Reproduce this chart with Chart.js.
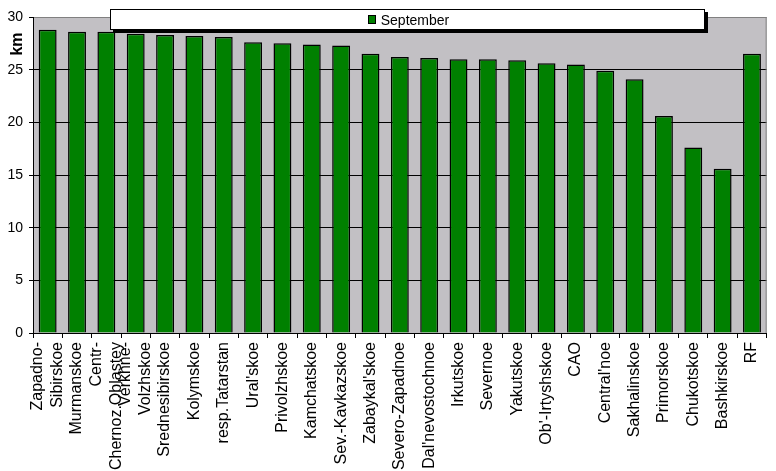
<!DOCTYPE html>
<html>
<head>
<meta charset="utf-8">
<script src="https://cdn.jsdelivr.net/npm/chart.js@4/dist/chart.umd.min.js"></script>
<style>
  html, body { margin: 0; padding: 0; background: #fff; }
  #wrap { position: relative; width: 776px; height: 471px; }
  #legend {
    position: absolute; left: 110px; top: 9px; width: 593px; height: 19px;
    background: #fff; border: 1px solid #000; box-shadow: 3px 3px 0 #000;
    display: flex; align-items: center; justify-content: center;
    font: 14px "Liberation Sans", Arial, sans-serif; color: #000;
  }
  #legend .sw { width: 6px; height: 7px; background: #008000; border: 1px solid #000; margin-right: 5px; margin-left: 2px; }
</style>
</head>
<body>
<div id="wrap">
  <canvas id="c" width="776" height="471"></canvas>
  <div id="legend"><span class="sw"></span><span>September</span></div>
</div>
<script>
const categories = [
  ["Zapadno-", "Sibirskoe"], "Murmanskoe", ["Centr-", "Chernoz.Oblastey"], ["Verkhne-", "Volzhskoe"],
  "Srednesibirskoe", "Kolymskoe", "resp.Tatarstan", "Ural'skoe", "Privolzhskoe", "Kamchatskoe",
  "Sev.-Kavkazskoe", "Zabaykal'skoe", "Severo-Zapadnoe", "Dal'nevostochnoe", "Irkutskoe", "Severnoe",
  "Yakutskoe", "Ob'-Irtyshskoe", "CAO", "Central'noe", "Sakhalinskoe", "Primorskoe", "Chukotskoe",
  "Bashkirskoe", "RF"
];
const september = [
  28.8, 28.6, 28.6, 28.4, 28.3, 28.2, 28.1, 27.6, 27.5, 27.4, 27.3, 26.5, 26.2, 26.1,
  26.0, 26.0, 25.9, 25.6, 25.5, 24.9, 24.1, 20.6, 17.6, 15.6, 26.5
];
const seriesName = "September";
const yAxisTitle = "km";
const yMin = 0, yMax = 30, yStep = 5;

const FONT = '"Liberation Sans", Arial, sans-serif';
Chart.defaults.font.family = FONT;
Chart.defaults.color = '#000';

const bgPlugin = {
  id: 'bg',
  beforeDraw(chart) {
    const {ctx, chartArea: a} = chart;
    ctx.save();
    ctx.fillStyle = '#C2C0C4';
    ctx.fillRect(a.left, a.top, a.right - a.left, a.bottom - a.top);
    ctx.restore();
    // center multi-line rotated x labels on their category
    const xs = chart.scales.x;
    const items = xs.getLabelItems();
    items.forEach(it => {
      if (Array.isArray(it.label) && !it._centered) {
        const lh = it.font.lineHeight;
        it.options.translation[0] -= (it.label.length - 1) * lh / 2;
        it._centered = true;
      }
    });
  },
  afterDraw(chart) {
    const {ctx, chartArea: a} = chart;
    ctx.save();
    ctx.strokeStyle = '#808080';
    ctx.lineWidth = 1;
    ctx.beginPath();
    ctx.moveTo(a.right - 0.5, a.top);
    ctx.lineTo(a.right - 0.5, a.bottom);
    ctx.stroke();
    // axis title
    ctx.translate(18, 44);
    ctx.rotate(-Math.PI / 2);
    ctx.font = 'bold 16px ' + FONT;
    ctx.fillStyle = '#000';
    ctx.textAlign = 'center';
    ctx.textBaseline = 'middle';
    ctx.fillText(yAxisTitle, 0, 0);
    ctx.restore();
  }
};

new Chart(document.getElementById('c'), {
  type: 'bar',
  data: {
    labels: categories,
    datasets: [{
      label: seriesName,
      data: september,
      backgroundColor: '#008000',
      borderColor: '#000',
      borderWidth: 1.5,
      barPercentage: 0.61,
      categoryPercentage: 1.0
    }]
  },
  options: {
    responsive: false,
    animation: false,
    devicePixelRatio: 1,
    layout: { padding: { top: 17, right: 1, left: 0, bottom: 0 } },
    plugins: { legend: { display: false }, tooltip: { enabled: false } },
    scales: {
      x: {
        offset: true,
        grid: { offset: true, drawOnChartArea: false, drawTicks: true, tickLength: 5, color: '#000' },
        border: { color: '#000', width: 1 },
        ticks: {
          autoSkip: false, maxRotation: 90, minRotation: 90, padding: 4,
          font: { size: 16, lineHeight: 1.25 }, color: '#000'
        },
        afterFit(s) { s.height = 138; }
      },
      y: {
        min: yMin, max: yMax,
        grid: {
          color: c => (c.tick && c.tick.value === yMax) ? '#808080' : '#000',
          tickColor: '#000', tickLength: 4, drawTicks: true
        },
        border: { color: '#000', width: 1 },
        ticks: { stepSize: yStep, padding: 6, font: { size: 14 }, color: '#000' },
        afterFit(s) { s.width = 33; }
      }
    }
  },
  plugins: [bgPlugin]
});
</script>
</body>
</html>
